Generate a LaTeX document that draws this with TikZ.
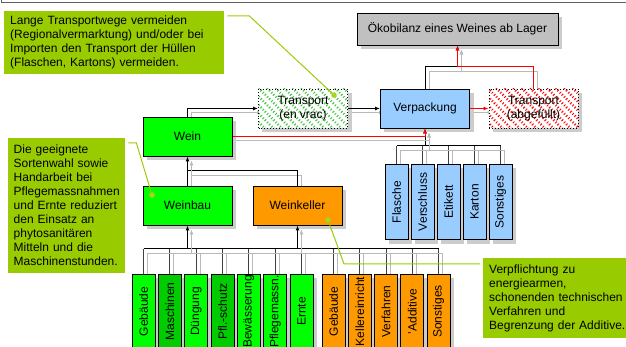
\documentclass[tikz,border=0pt]{standalone}
\usepackage{fontspec}
\setmainfont{Liberation Sans}
\usepackage{graphicx}
\usepackage{xcolor}
\usetikzlibrary{arrows.meta,patterns.meta,backgrounds}

\definecolor{notegreen}{HTML}{99CC00}
\definecolor{winegreen}{HTML}{00FF00}
\definecolor{darkgreen}{HTML}{00CC00}
\definecolor{cellarorange}{HTML}{FF9900}
\definecolor{packblue}{HTML}{99CCFF}
\definecolor{oekogray}{HTML}{C0C0C0}
\definecolor{vracgreen}{HTML}{3CC43C}
\definecolor{framegray}{HTML}{606060}

\tikzset{
	box/.style={draw=black, line width=0.9pt, inner sep=0pt},
	mainbox/.style={box, minimum width=89pt, minimum height=39pt, align=center},
	smallbox/.style={box, minimum width=23pt, minimum height=75pt},
	hatchbox/.style={mainbox, fill=white, dotted, path picture={\fill[pattern={Lines[angle=-45,distance=6pt,line width=2.4pt]}, pattern color=#1] (path picture bounding box.south west) rectangle (path picture bounding box.north east);}},
	boxshadow/.style={fill=gray!40},
	note/.style={fill=notegreen, inner xsep=6pt, inner ysep=0pt, align=left, anchor=north west},
	shade/.style={preaction={draw=gray!55, line width=0.8pt, transform canvas={xshift=4pt,yshift=-4pt}}},
	con/.style={shade, draw=black, line width=1pt},
	twig/.style={shade, draw=black!75, line width=0.8pt},
	redcon/.style={shade, draw=red, line width=1pt},
	arr/.style={-{Latex[length=5pt,width=4pt]}},
	callout/.style={draw=notegreen, line width=1pt}
}

\begin{document}
\begin{tikzpicture}[x=1pt, y=-1pt, font=\fontsize{12}{14}\selectfont]
	\useasboundingbox (0,0) rectangle (626,347);
	\clip (0,0) rectangle (626,347);
	\draw[framegray, line width=1pt] (1.5,0) -- (1.5,2.5) -- (626,2.5);

	\node[mainbox, fill=oekogray, minimum width=201pt, minimum height=32pt] (oeko) at (457.5,29) {Ökobilanz eines Weines ab Lager};
	\node[hatchbox=vracgreen] (vrac) at (303,108.5) {Transport\\(en vrac)};
	\node[mainbox, fill=packblue] (verp) at (425,108.5) {Verpackung};
	\node[hatchbox=red] (abgef) at (533.5,108.5) {Transport\\(abgefüllt)};
	\node[mainbox, fill=winegreen] (wein) at (187.5,136.5) {Wein};
	\node[mainbox, fill=winegreen] (weinbau) at (187.5,205.5) {Weinbau};
	\node[mainbox, fill=cellarorange] (keller) at (297.5,205.5) {Weinkeller};

	\foreach \t [count=\i] in {Flasche,Verschluss,Etikett,Karton,Sonstiges}
		\node[smallbox, fill=packblue] (p\i) at ({370.5+26*\i},202) {\rotatebox{90}{\t}};
	\foreach \t/\c [count=\i] in {Gebäude/winegreen,Maschinen/darkgreen,Düngung/winegreen,Pfl.-schutz/darkgreen,Bewässerung/winegreen,Pflegemassn./winegreen,Ernte/winegreen}
		\node[smallbox, fill=\c] (b\i) at ({117.17+26.33*\i},311.5) {\rotatebox{90}{\t}};
	\foreach \t [count=\i] in {Gebäude,Kellereinricht,Verfahren,'Additive,Sonstiges}
		\node[smallbox, fill=cellarorange] (k\i) at ({307.25+26.25*\i},311.5) {\rotatebox{90}{\t}};

	\begin{pgfonlayer}{background}
		\foreach \n in {oeko,vrac,verp,abgef,wein,weinbau,keller,p1,p2,p3,p4,p5,b1,b2,b3,b4,b5,b6,b7,k1,k2,k3,k4,k5}
			\fill[boxshadow] ([xshift=4pt,yshift=-4pt]\n.north west) rectangle ([xshift=4pt,yshift=-4pt]\n.south east);

		\coordinate (baubus) at (187.5,249);
		\coordinate (kelbus) at (297.5,249);
		\coordinate (packbus) at (425,146);
		\coordinate (weinbus) at (187.5,171);
		\coordinate (oekobus) at (457.5,67);

		\foreach \i in {1,...,7}
			\draw[twig] (b\i.north) -- (b\i.north |- baubus);
		\foreach \i in {1,...,5}
			\draw[twig] (k\i.north) -- (k\i.north |- kelbus);
		\foreach \i in {1,...,5}
			\draw[twig] (p\i.north) -- (p\i.north |- packbus);
		\draw[con] (b1.north |- baubus) -- (b7.north |- baubus);
		\draw[con] (kelbus) -- (k5.north |- kelbus);
		\draw[con] (p1.north |- packbus) -- (p5.north |- packbus);
		\draw[con, arr] (baubus) -- (weinbau.south);
		\draw[con, arr] (kelbus) -- (keller.south);
		\draw[con, arr] (packbus) -- (verp.south);

		\draw[con] (keller.north) |- (weinbus);
		\draw[con, arr] (weinbau.north) -- (wein.south);
		\draw[con, arr] (wein.north) |- (vrac.west);
		\draw[con, arr] (vrac.east) -- (verp.west);
		\draw[redcon, arr] (verp.east) -- (abgef.west);
		\draw[redcon, arr] (wein.east) -| (verp.south);
		\draw[con, arr] (verp.north) |- (oekobus) -- (oeko.south);
		\draw[redcon, arr] (abgef.north) |- (oekobus) -- (oeko.south);
	\end{pgfonlayer}

	\node[note, minimum height=63pt, text width=208pt] (note1) at (4,11) {Lange Transportwege vermeiden\\(Regionalvermarktung) und/oder bei\\Importen den Transport der Hüllen\\(Flaschen, Kartons) vermeiden.};
	\node[note, inner xsep=5.5pt, minimum height=135pt, text width=106pt] (note2) at (8,138) {Die geeignete\\Sortenwahl sowie\\Handarbeit bei\\Pflegemassnahmen\\und Ernte reduziert\\den Einsatz an\\phytosanitären\\Mitteln und die\\Maschinenstunden.};
	\node[note, minimum height=80pt, text width=145pt] (note3) at (483,258) {Verpflichtung zu\\energiearmen,\\schonenden technischen\\Verfahren und\\Begrenzung der Additive.};

	\coordinate (tip1) at (334,95);
	\coordinate (tip2) at (152,195);
	\coordinate (tip3) at (328,220);
	\draw[callout] ([xshift=3pt,yshift=-5pt]note1.north east) -- ++(22,0) -- (tip1);
	\draw[callout] ([xshift=3pt,yshift=-5pt]note2.north east) -- ++(8,0) -- (tip2);
	\draw[callout] ([xshift=-3pt,yshift=-6pt]note3.north west) -- ++(-136,0) -- (tip3);
	\fill[notegreen!85!white] (tip1) circle (2.8pt);
	\fill[notegreen!85!white] (tip2) circle (2.8pt);
	\fill[notegreen!85!white] (tip3) circle (2.8pt);
\end{tikzpicture}
\end{document}
